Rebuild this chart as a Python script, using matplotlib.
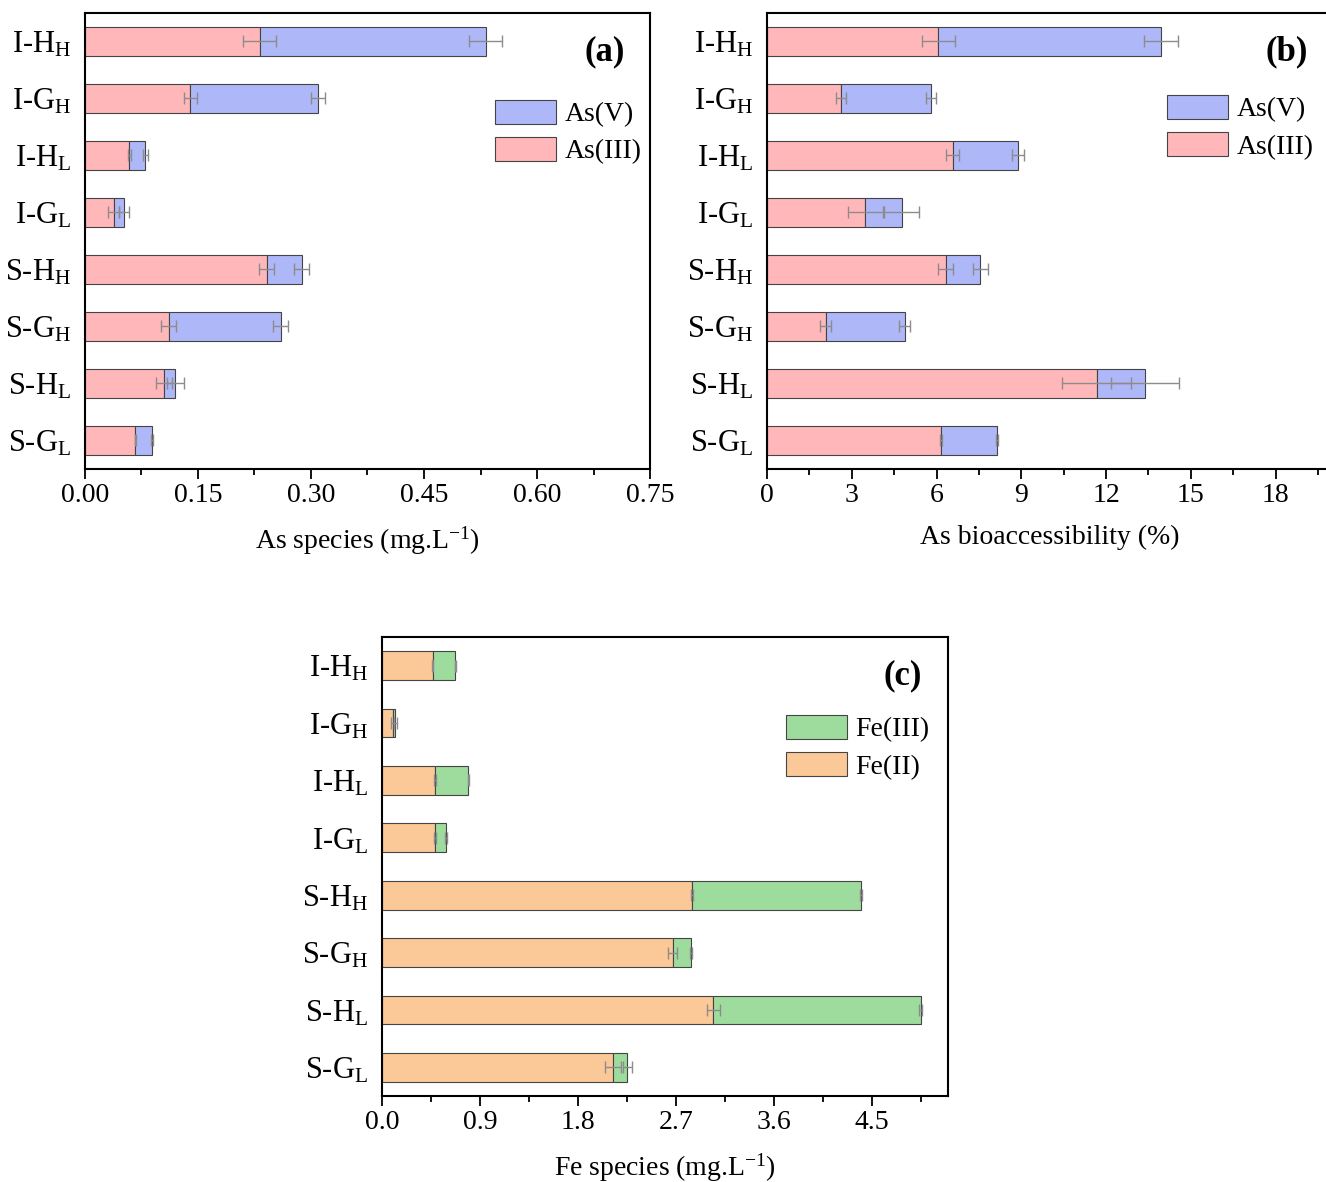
import numpy as np
import matplotlib
matplotlib.use("Agg")
import matplotlib.pyplot as plt
from matplotlib.ticker import MultipleLocator, FormatStrFormatter

plt.rcParams['font.family'] = ['Liberation Serif', 'DejaVu Serif']
plt.rcParams['mathtext.fontset'] = 'custom'
plt.rcParams['mathtext.rm'] = 'Liberation Serif'
plt.rcParams['mathtext.it'] = 'Liberation Serif:italic'

# sample names (top to bottom)
samples = ["I-H$_\\mathrm{H}$", "I-G$_\\mathrm{H}$", "I-H$_\\mathrm{L}$", "I-G$_\\mathrm{L}$",
           "S-H$_\\mathrm{H}$", "S-G$_\\mathrm{H}$", "S-H$_\\mathrm{L}$", "S-G$_\\mathrm{L}$"]

# (a) As species, mg/L : As(III) and total (As(III)+As(V))
as3_conc = [0.232, 0.140, 0.059, 0.038, 0.241, 0.111, 0.105, 0.067]
as_tot_conc = [0.532, 0.309, 0.080, 0.052, 0.288, 0.260, 0.120, 0.089]
as3_conc_err = [0.022, 0.009, 0.002, 0.007, 0.010, 0.010, 0.011, 0.001]
as_tot_conc_err = [0.022, 0.009, 0.003, 0.007, 0.010, 0.010, 0.011, 0.001]

# (b) As bioaccessibility, %
as3_bio = [6.07, 2.61, 6.57, 3.47, 6.32, 2.08, 11.67, 6.15]
as_tot_bio = [13.96, 5.81, 8.89, 4.77, 7.55, 4.87, 13.37, 8.14]
as3_bio_err = [0.58, 0.17, 0.24, 0.62, 0.28, 0.20, 1.21, 0.03]
as_tot_bio_err = [0.60, 0.17, 0.22, 0.62, 0.26, 0.20, 1.21, 0.03]

# (c) Fe species, mg/L : Fe(II) and total (Fe(II)+Fe(III))
fe2 = [0.464, 0.097, 0.487, 0.487, 2.849, 2.671, 3.043, 2.122]
fe_tot = [0.673, 0.124, 0.793, 0.588, 4.403, 2.842, 4.948, 2.254]
fe2_err = [0.005, 0.010, 0.005, 0.005, 0.010, 0.040, 0.060, 0.070]
fe_tot_err = [0.005, 0.010, 0.005, 0.005, 0.010, 0.010, 0.010, 0.040]

c_as3 = "#ffb7ba"
c_as5 = "#aeb7f8"
c_fe2 = "#fbc897"
c_fe3 = "#9edc9e"
edge = "#444444"
err_c = "#8c8c8c"

fig = plt.figure(figsize=(13.26, 11.82), dpi=100)
W, H = 1326, 1182


def make_ax(left, top, width, height):
    return fig.add_axes([left / W, 1 - (top + height) / H, width / W, height / H])


def panel(ax, low, tot, low_err, tot_err, c_low, c_high, lab_low, lab_high,
          xmax, major, minor, fmt, xlabel, tag, leg_xy):
    y = np.arange(len(samples))
    low = np.array(low)
    tot = np.array(tot)
    ax.barh(y, low, height=0.5, color=c_low, edgecolor=edge, linewidth=0.8, label=lab_low, zorder=2)
    ax.barh(y, tot - low, left=low, height=0.5, color=c_high, edgecolor=edge, linewidth=0.8,
            label=lab_high, zorder=2)
    ax.errorbar(low, y, xerr=low_err, fmt="none", ecolor=err_c, elinewidth=1, capsize=4.5,
                capthick=1, zorder=3)
    ax.errorbar(tot, y, xerr=tot_err, fmt="none", ecolor=err_c, elinewidth=1, capsize=4.5,
                capthick=1, zorder=3)
    ax.set_yticks(y)
    ax.set_yticklabels(samples, fontsize=22)
    ax.set_ylim(len(samples) - 0.5, -0.5)
    ax.set_xlim(0, xmax)
    ax.xaxis.set_major_locator(MultipleLocator(major))
    ax.xaxis.set_minor_locator(MultipleLocator(minor))
    ax.xaxis.set_major_formatter(FormatStrFormatter(fmt))
    ax.tick_params(axis="y", length=0, pad=10)
    ax.tick_params(axis="x", which="major", length=7, width=1.3, labelsize=20, pad=3)
    ax.tick_params(axis="x", which="minor", length=4, width=1.3)
    for s in ax.spines.values():
        s.set_linewidth(1.5)
    ax.set_xlabel(xlabel, fontsize=20, labelpad=12)
    ax.text(0.92, 0.915, tag, transform=ax.transAxes, fontsize=25, fontweight="bold",
            ha="center", va="center")
    h, l = ax.get_legend_handles_labels()
    ax.legend(h[::-1], l[::-1], loc="upper left", bbox_to_anchor=leg_xy, frameon=False,
              fontsize=20, handlelength=2.2, handleheight=0.95, handletextpad=0.3,
              labelspacing=0.35, borderpad=0, borderaxespad=0)


ax_a = make_ax(85, 13, 565, 456)
panel(ax_a, as3_conc, as_tot_conc, as3_conc_err, as_tot_conc_err, c_as3, c_as5,
      "As(III)", "As(V)", 0.75, 0.15, 0.075, "%.2f",
      "As species (mg.L$^{\\mathrm{-1}}$)", "(a)", (0.726, 0.81))

ax_b = make_ax(767, 13, 565, 456)
panel(ax_b, as3_bio, as_tot_bio, as3_bio_err, as_tot_bio_err, c_as3, c_as5,
      "As(III)", "As(V)", 20, 3, 1.5, "%d",
      "As bioaccessibility (%)", "(b)", (0.708, 0.82))

ax_c = make_ax(382, 637, 566, 459)
panel(ax_c, fe2, fe_tot, fe2_err, fe_tot_err, c_fe2, c_fe3,
      "Fe(II)", "Fe(III)", 5.2, 0.9, 0.45, "%.1f",
      "Fe species (mg.L$^{\\mathrm{-1}}$)", "(c)", (0.714, 0.83))

fig.savefig("out.png", dpi=100)
